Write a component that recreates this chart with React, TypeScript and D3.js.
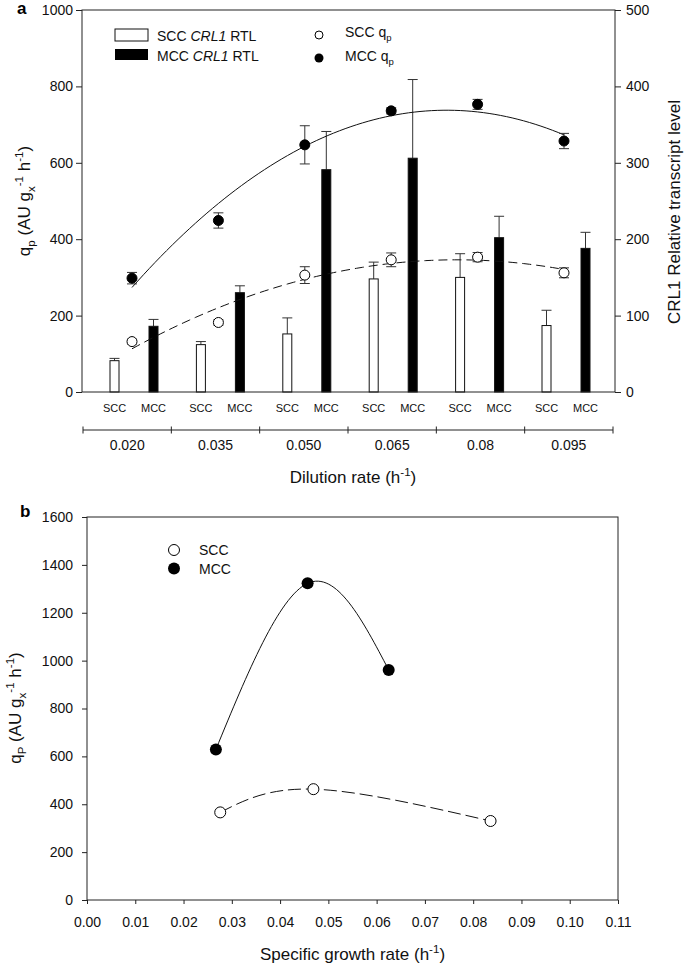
import React, { useRef, useEffect } from 'react';
import * as d3 from 'd3';

// panel a: dilution rates and measurements
const dilutionRates = [0.02, 0.035, 0.05, 0.065, 0.08, 0.095];
const rateLabels = ['0.020', '0.035', '0.050', '0.065', '0.08', '0.095'];
const sccRtl = [41, 62, 76, 148, 150, 87];
const sccRtlErr = [3, 4, 21, 22, 31, 20];
const mccRtl = [86, 130, 291, 306, 202, 188];
const mccRtlErr = [9, 9, 50, 103, 28, 21];
const sccQp = [132, 182, 306, 346, 353, 312];
const sccQpErr = [6, 7, 22, 18, 12, 13];
const mccQp = [298, 449, 647, 736, 753, 657];
const mccQpErr = [15, 20, 50, 8, 13, 20];
const leftTicksA = [0, 200, 400, 600, 800, 1000];
const rightTicksA = [0, 100, 200, 300, 400, 500];

// panel b: specific growth rate vs qP
const muScc = [0.0276, 0.0469, 0.0836];
const qpScc = [366, 463, 330];
const muMcc = [0.0267, 0.0457, 0.0625];
const qpMcc = [629, 1323, 961];
const yTicksB = [0, 200, 400, 600, 800, 1000, 1200, 1400, 1600];
const xTicksB = [0, 0.01, 0.02, 0.03, 0.04, 0.05, 0.06, 0.07, 0.08, 0.09, 0.1, 0.11];

const FONT = '"Liberation Sans", Arial, Helvetica, sans-serif';
const INK = '#222';

type Part = { t: string; s?: 'sub' | 'sup'; i?: boolean };

// append text pieces with sub/superscripts
function addRich(sel: any, parts: Part[], size: number) {
  let shift = 0;
  parts.forEach(p => {
    const target = p.s === 'sub' ? size * 0.3 : p.s === 'sup' ? -size * 0.42 : 0;
    const ts = sel.append('tspan').text(p.t).attr('dy', target - shift);
    if (p.s) ts.attr('font-size', size * 0.68);
    if (p.i) ts.attr('font-style', 'italic');
    shift = target;
  });
}

// least squares quadratic fit, returns evaluator
function quadFit(xs: number[], ys: number[]) {
  const m = d3.mean(xs) || 0;
  const u = xs.map(x => (x - m) * 100);
  const S = (k: number) => d3.sum(u, v => Math.pow(v, k));
  const T = (k: number) => d3.sum(u, (v, i) => Math.pow(v, k) * ys[i]);
  const A = [
    [S(0), S(1), S(2), T(0)],
    [S(1), S(2), S(3), T(1)],
    [S(2), S(3), S(4), T(2)]
  ];
  for (let c = 0; c < 3; c++) {
    for (let r = c + 1; r < 3; r++) {
      const f = A[r][c] / A[c][c];
      for (let k = c; k < 4; k++) A[r][k] -= f * A[c][k];
    }
  }
  const coef = [0, 0, 0];
  for (let r = 2; r >= 0; r--) {
    let s = A[r][3];
    for (let k = r + 1; k < 3; k++) s -= A[r][k] * coef[k];
    coef[r] = s / A[r][r];
  }
  return (x: number) => {
    const v = (x - m) * 100;
    return coef[0] + coef[1] * v + coef[2] * v * v;
  };
}

const W = 685;
const H = 965;

const Chart: React.FC = () => {
  const svgRef = useRef<SVGSVGElement>(null);

  useEffect(() => {
    if (!svgRef.current) return;
    const svg = d3.select(svgRef.current);
    svg.selectAll('*').remove();
    svg.attr('font-family', FONT);

    // ---------------- panel a ----------------
    const aL = 82, aR = 615, aT = 10, aB = 392;
    const x = d3.scaleLinear().domain([0.02, 0.095]).range([132, 564]);
    const yL = d3.scaleLinear().domain([0, 1000]).range([aB, aT]);
    const yR = d3.scaleLinear().domain([0, 500]).range([aB, aT]);
    const groups = d3.scaleBand().domain(rateLabels).range([83, 613]);
    const sccOff = -17.5, mccOff = 21.5, barW = 9, cap = 5;

    const ga = svg.append('g');

    // bars with upward error bars
    const drawBars = (vals: number[], errs: number[], off: number, fill: string) => {
      vals.forEach((v, i) => {
        const cx = x(dilutionRates[i]) + off;
        ga.append('line')
          .attr('x1', cx).attr('x2', cx)
          .attr('y1', yR(v)).attr('y2', yR(v + errs[i]))
          .attr('stroke', '#333');
        ga.append('line')
          .attr('x1', cx - cap).attr('x2', cx + cap)
          .attr('y1', yR(v + errs[i])).attr('y2', yR(v + errs[i]))
          .attr('stroke', '#333');
        ga.append('rect')
          .attr('x', cx - barW / 2).attr('y', yR(v))
          .attr('width', barW).attr('height', aB - yR(v))
          .attr('fill', fill).attr('stroke', '#111').attr('stroke-width', 1);
      });
    };
    drawBars(sccRtl, sccRtlErr, sccOff, '#fff');
    drawBars(mccRtl, mccRtlErr, mccOff, '#000');

    // fitted curves
    const fitScc = quadFit(dilutionRates, sccQp);
    const fitMcc = quadFit(dilutionRates, mccQp);
    const xs = d3.range(0.02, 0.0951, 0.001);
    const lineA = (f: (v: number) => number) =>
      d3.line<number>().x(d => x(d)).y(d => yL(f(d)))(xs);
    ga.append('path').attr('d', lineA(fitMcc)).attr('fill', 'none').attr('stroke', '#111');
    ga.append('path').attr('d', lineA(fitScc)).attr('fill', 'none').attr('stroke', '#111')
      .attr('stroke-dasharray', '9,5');

    // points with error bars
    const drawPoints = (vals: number[], errs: number[], fill: string) => {
      vals.forEach((v, i) => {
        const cx = x(dilutionRates[i]);
        const g = ga.append('g').attr('stroke', '#333');
        g.append('line').attr('x1', cx).attr('x2', cx)
          .attr('y1', yL(v - errs[i])).attr('y2', yL(v + errs[i]));
        [v - errs[i], v + errs[i]].forEach(e => {
          g.append('line').attr('x1', cx - cap).attr('x2', cx + cap)
            .attr('y1', yL(e)).attr('y2', yL(e));
        });
        ga.append('circle').attr('cx', cx).attr('cy', yL(v)).attr('r', 5)
          .attr('fill', fill).attr('stroke', '#000');
      });
    };
    drawPoints(sccQp, sccQpErr, '#fff');
    drawPoints(mccQp, mccQpErr, '#000');

    // frame
    ga.append('rect').attr('x', aL).attr('y', aT).attr('width', aR - aL).attr('height', aB - aT)
      .attr('fill', 'none').attr('stroke', INK);

    const intFmt = d3.format('d');
    const axL = ga.append('g').attr('transform', `translate(${aL},0)`)
      .call(d3.axisLeft(yL).tickValues(leftTicksA).tickFormat(intFmt as any)
        .tickSize(6).tickPadding(3).tickSizeOuter(0));
    const axR = ga.append('g').attr('transform', `translate(${aR},0)`)
      .call(d3.axisRight(yR).tickValues(rightTicksA).tickFormat(intFmt as any)
        .tickSize(6).tickPadding(5).tickSizeOuter(0));
    [axL, axR].forEach(a => {
      a.select('.domain').remove();
      a.selectAll('line').attr('stroke', INK);
      a.selectAll('text').attr('font-size', 14).attr('fill', '#111').attr('font-family', FONT);
    });

    // SCC / MCC labels under bars
    dilutionRates.forEach(d => {
      [['SCC', sccOff], ['MCC', mccOff]].forEach(([t, off]) => {
        ga.append('text').attr('x', x(d) + (off as number)).attr('y', 412)
          .attr('text-anchor', 'middle').attr('font-size', 11).attr('fill', '#111')
          .text(t as string);
      });
    });

    // dilution-rate group axis
    const gy = 430;
    ga.append('line').attr('x1', 83).attr('x2', 613).attr('y1', gy).attr('y2', gy).attr('stroke', INK);
    const bounds = rateLabels.map(r => groups(r) as number).concat([613]);
    bounds.forEach(b => {
      ga.append('line').attr('x1', b).attr('x2', b).attr('y1', gy - 3.5).attr('y2', gy + 3.5)
        .attr('stroke', INK);
    });
    rateLabels.forEach(r => {
      ga.append('text').attr('x', (groups(r) as number) + groups.bandwidth() / 2).attr('y', 450)
        .attr('text-anchor', 'middle').attr('font-size', 14).attr('fill', '#111').text(r);
    });

    // axis titles
    const tA = ga.append('text').attr('x', 353).attr('y', 483).attr('text-anchor', 'middle')
      .attr('font-size', 17).attr('fill', '#111');
    addRich(tA, [{ t: 'Dilution rate (h' }, { t: '-1', s: 'sup' }, { t: ')' }], 17);

    const yTitleA = ga.append('text').attr('transform', 'translate(30,201) rotate(-90)')
      .attr('text-anchor', 'middle').attr('font-size', 17).attr('fill', '#111');
    addRich(yTitleA, [
      { t: 'q' }, { t: 'p', s: 'sub' }, { t: ' (AU g' }, { t: 'x', s: 'sub' }, { t: '-1', s: 'sup' },
      { t: ' h' }, { t: '-1', s: 'sup' }, { t: ')' }
    ], 17);

    ga.append('text').attr('transform', 'translate(680,212) rotate(-90)')
      .attr('text-anchor', 'middle').attr('font-size', 17).attr('fill', '#111')
      .text('CRL1 Relative transcript level');

    ga.append('text').attr('x', 17).attr('y', 14).attr('font-size', 17).attr('font-weight', 'bold')
      .text('a');

    // legend a
    const legA = ga.append('g');
    legA.append('rect').attr('x', 115).attr('y', 29).attr('width', 33).attr('height', 12)
      .attr('fill', '#fff').attr('stroke', '#111');
    legA.append('rect').attr('x', 115).attr('y', 49).attr('width', 33).attr('height', 11)
      .attr('fill', '#000');
    const l1 = legA.append('text').attr('x', 157).attr('y', 40.5).attr('font-size', 14).attr('fill', '#111');
    addRich(l1, [{ t: 'SCC ' }, { t: 'CRL1', i: true }, { t: ' RTL' }], 14);
    const l2 = legA.append('text').attr('x', 157).attr('y', 60.5).attr('font-size', 14).attr('fill', '#111');
    addRich(l2, [{ t: 'MCC ' }, { t: 'CRL1', i: true }, { t: ' RTL' }], 14);
    legA.append('circle').attr('cx', 319).attr('cy', 35).attr('r', 4).attr('fill', '#fff').attr('stroke', '#000');
    legA.append('circle').attr('cx', 319).attr('cy', 58).attr('r', 4.5).attr('fill', '#000');
    const l3 = legA.append('text').attr('x', 345).attr('y', 37).attr('font-size', 14).attr('fill', '#111');
    addRich(l3, [{ t: 'SCC q' }, { t: 'p', s: 'sub' }], 14);
    const l4 = legA.append('text').attr('x', 345).attr('y', 61).attr('font-size', 14).attr('fill', '#111');
    addRich(l4, [{ t: 'MCC q' }, { t: 'p', s: 'sub' }], 14);

    // ---------------- panel b ----------------
    const bL = 87, bR = 618, bT = 517, bB = 900;
    const xb = d3.scaleLinear().domain([0, 0.11]).range([bL, bR]);
    const yb = d3.scaleLinear().domain([0, 1600]).range([bB, bT]);
    const gb = svg.append('g');

    gb.append('rect').attr('x', bL).attr('y', bT).attr('width', bR - bL).attr('height', bB - bT)
      .attr('fill', 'none').attr('stroke', INK);

    const axBL = gb.append('g').attr('transform', `translate(${bL},0)`)
      .call(d3.axisLeft(yb).tickValues(yTicksB).tickFormat(intFmt as any)
        .tickSize(5).tickPadding(9).tickSizeOuter(0));
    const axBB = gb.append('g').attr('transform', `translate(0,${bB})`)
      .call(d3.axisBottom(xb).tickValues(xTicksB).tickFormat(d3.format('.2f') as any)
        .tickSize(4).tickPadding(13).tickSizeOuter(0));
    [axBL, axBB].forEach(a => {
      a.select('.domain').remove();
      a.selectAll('line').attr('stroke', INK);
      a.selectAll('text').attr('font-size', 14).attr('fill', '#111').attr('font-family', FONT);
    });

    const spline = d3.line<number>().curve(d3.curveNatural);
    gb.append('path')
      .attr('d', spline(muMcc.map((m, i) => [xb(m), yb(qpMcc[i])]) as any))
      .attr('fill', 'none').attr('stroke', '#111');
    gb.append('path')
      .attr('d', spline(muScc.map((m, i) => [xb(m), yb(qpScc[i])]) as any))
      .attr('fill', 'none').attr('stroke', '#111').attr('stroke-dasharray', '13,5');

    muMcc.forEach((m, i) => {
      gb.append('circle').attr('cx', xb(m)).attr('cy', yb(qpMcc[i])).attr('r', 6).attr('fill', '#000');
    });
    muScc.forEach((m, i) => {
      gb.append('circle').attr('cx', xb(m)).attr('cy', yb(qpScc[i])).attr('r', 5.5)
        .attr('fill', '#fff').attr('stroke', '#000');
    });

    // legend b
    gb.append('circle').attr('cx', 174).attr('cy', 550).attr('r', 5.5).attr('fill', '#fff').attr('stroke', '#000');
    gb.append('circle').attr('cx', 174).attr('cy', 568.5).attr('r', 6).attr('fill', '#000');
    gb.append('text').attr('x', 199).attr('y', 555).attr('font-size', 14).attr('fill', '#111').text('SCC');
    gb.append('text').attr('x', 199).attr('y', 574).attr('font-size', 14).attr('fill', '#111').text('MCC');

    gb.append('text').attr('x', 20).attr('y', 517).attr('font-size', 17).attr('font-weight', 'bold')
      .text('b');

    const tB = gb.append('text').attr('x', 352.5).attr('y', 960).attr('text-anchor', 'middle')
      .attr('font-size', 17).attr('fill', '#111');
    addRich(tB, [{ t: 'Specific growth rate (h' }, { t: '-1', s: 'sup' }, { t: ')' }], 17);

    const yTitleB = gb.append('text').attr('transform', 'translate(21,708) rotate(-90)')
      .attr('text-anchor', 'middle').attr('font-size', 17).attr('fill', '#111');
    addRich(yTitleB, [
      { t: 'q' }, { t: 'P', s: 'sub' }, { t: ' (AU g' }, { t: 'x', s: 'sub' }, { t: '-1', s: 'sup' },
      { t: ' h' }, { t: '-1', s: 'sup' }, { t: ')' }
    ], 17);
  }, []);

  return (
    <svg
      ref={svgRef}
      width={W}
      height={H}
      viewBox={`0 0 ${W} ${H}`}
      style={{ position: 'absolute', left: 0, top: 0, background: '#fff' }}
    />
  );
};

export default function App() {
  return <Chart />;
}
